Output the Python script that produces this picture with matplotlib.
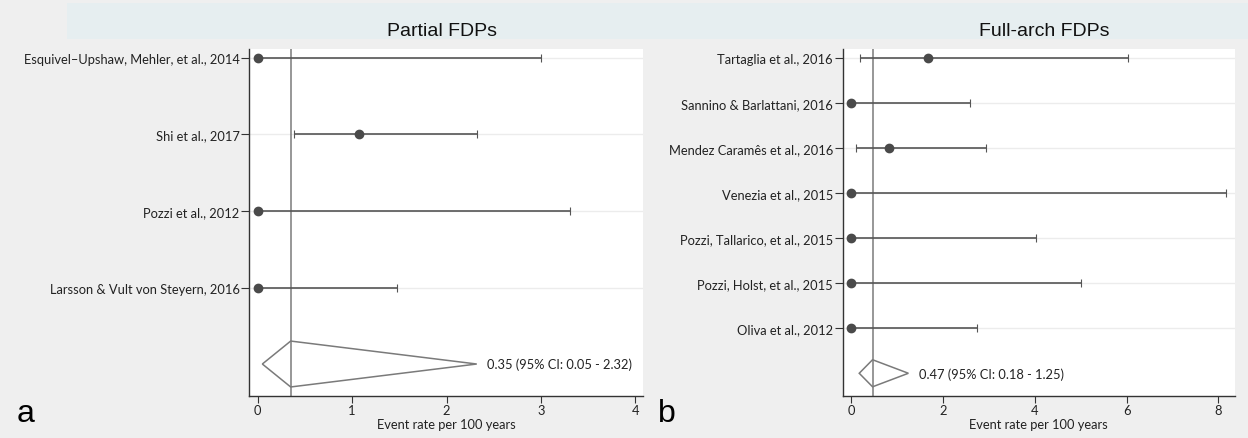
import matplotlib
matplotlib.use("Agg")
import matplotlib.pyplot as plt
from matplotlib.patches import Polygon, Rectangle

# Partial FDPs
partial_studies = ["Esquivel\u2013Upshaw, Mehler, et al., 2014", "Shi et al., 2017",
                   "Pozzi et al., 2012", "Larsson & Vult von Steyern, 2016"]
partial_rate = [0.0, 1.07, 0.0, 0.0]
partial_lo = [0.0, 0.39, 0.0, 0.0]
partial_hi = [3.0, 2.32, 3.31, 1.48]
partial_pooled = (0.35, 0.05, 2.32)

# Full-arch FDPs
full_studies = ["Tartaglia et al., 2016", "Sannino & Barlattani, 2016",
                "Mendez Caram\u00eas et al., 2016", "Venezia et al., 2015",
                "Pozzi, Tallarico, et al., 2015", "Pozzi, Holst, et al., 2015",
                "Oliva et al., 2012"]
full_rate = [1.68, 0.0, 0.82, 0.0, 0.0, 0.0, 0.0]
full_lo = [0.20, 0.0, 0.10, 0.0, 0.0, 0.0, 0.0]
full_hi = [6.03, 2.60, 2.93, 8.16, 4.03, 5.0, 2.74]
full_pooled = (0.47, 0.18, 1.25)

BG = "#efefef"
BAND = "#e6eef0"
DARK = "#4a4a4a"
GREY = "#7a7a7a"
LABEL = ["Lato", "DejaVu Sans"]
SANS = ["Liberation Sans", "DejaVu Sans"]
FS = 9.3

W, H = 1248, 439
fig = plt.figure(figsize=(W / 100, H / 100), dpi=100, facecolor=BG)
# light blue title strip behind the panel titles
fig.patches.append(Rectangle((67 / W, 1 - 40 / H), 1, 36 / H, transform=fig.transFigure,
                             facecolor=BAND, edgecolor="none", zorder=-1))


def forest(ax, studies, rate, lo, hi, pooled, xlim, ylim, xticks):
    n = len(studies)
    ys = list(range(n + 1, 1, -1))
    ax.set_facecolor("white")
    for y in ys:
        ax.axhline(y, color="#ececec", lw=1, zorder=0)
    for y, r, l, h in zip(ys, rate, lo, hi):
        ax.errorbar([r], [y], xerr=[[r - l], [h - r]], fmt="o", color=DARK,
                    ecolor="#555555", elinewidth=1.2, capsize=3, capthick=0.8,
                    markersize=6, zorder=3)
    est, plo, phi = pooled
    ax.add_patch(Polygon([(plo, 1), (est, 1.3), (phi, 1), (est, 0.7)], closed=True,
                         fill=False, edgecolor=GREY, lw=1.1, zorder=2))
    ax.axvline(est, color=GREY, lw=1.1, zorder=2)
    ax.annotate(f"{est:.2f} (95% CI: {plo:.2f} - {phi:.2f})", xy=(phi, 1),
                xytext=(7.5, 0), textcoords="offset points", va="center", ha="left",
                fontsize=FS, family=LABEL, color="#222222")
    ax.set_xlim(*xlim)
    ax.set_ylim(*ylim)
    ax.set_yticks(ys)
    ax.set_yticklabels(studies, family=LABEL, fontsize=FS, color="#222222")
    ax.set_xticks(xticks)
    ax.set_xticklabels([str(t) for t in xticks], family=LABEL, fontsize=FS,
                       color="#222222")
    ax.set_xlabel("Event rate per 100 years", family=LABEL, fontsize=FS,
                  color="#222222", labelpad=1)
    for s in ["top", "right"]:
        ax.spines[s].set_visible(False)
    for s in ["left", "bottom"]:
        ax.spines[s].set_color("#333333")
        ax.spines[s].set_linewidth(1.0)
    ax.tick_params(axis="y", length=6, width=0.8, color="#333333", pad=1)
    ax.tick_params(axis="x", length=5, width=0.8, color="#333333", pad=1)


ax1 = fig.add_axes([249.4 / W, 1 - 397 / H, (643 - 249.4) / W, (397 - 50) / H])
forest(ax1, partial_studies, partial_rate, partial_lo, partial_hi, partial_pooled,
       (-0.087, 4.08), (0.582, 5.117), [0, 1, 2, 3, 4])

ax2 = fig.add_axes([842.7 / W, 1 - 397 / H, (1235 - 842.7) / W, (397 - 50) / H])
forest(ax2, full_studies, full_rate, full_lo, full_hi, full_pooled,
       (-0.18, 8.36), (0.496, 8.19), [0, 2, 4, 6, 8])

fig.text(442 / W, 1 - 31 / H, "Partial FDPs", family=SANS, fontsize=14,
         color="#111111", ha="center", va="center")
fig.text(1044 / W, 1 - 31 / H, "Full-arch FDPs", family=SANS, fontsize=14,
         color="#111111", ha="center", va="center")

fig.text(17 / W, 1 - 414 / H, "a", fontsize=23, family=SANS, va="center", ha="left")
fig.text(658 / W, 1 - 414 / H, "b", fontsize=23, family=SANS, va="center", ha="left")

fig.savefig("out.png", dpi=100, facecolor=BG)
